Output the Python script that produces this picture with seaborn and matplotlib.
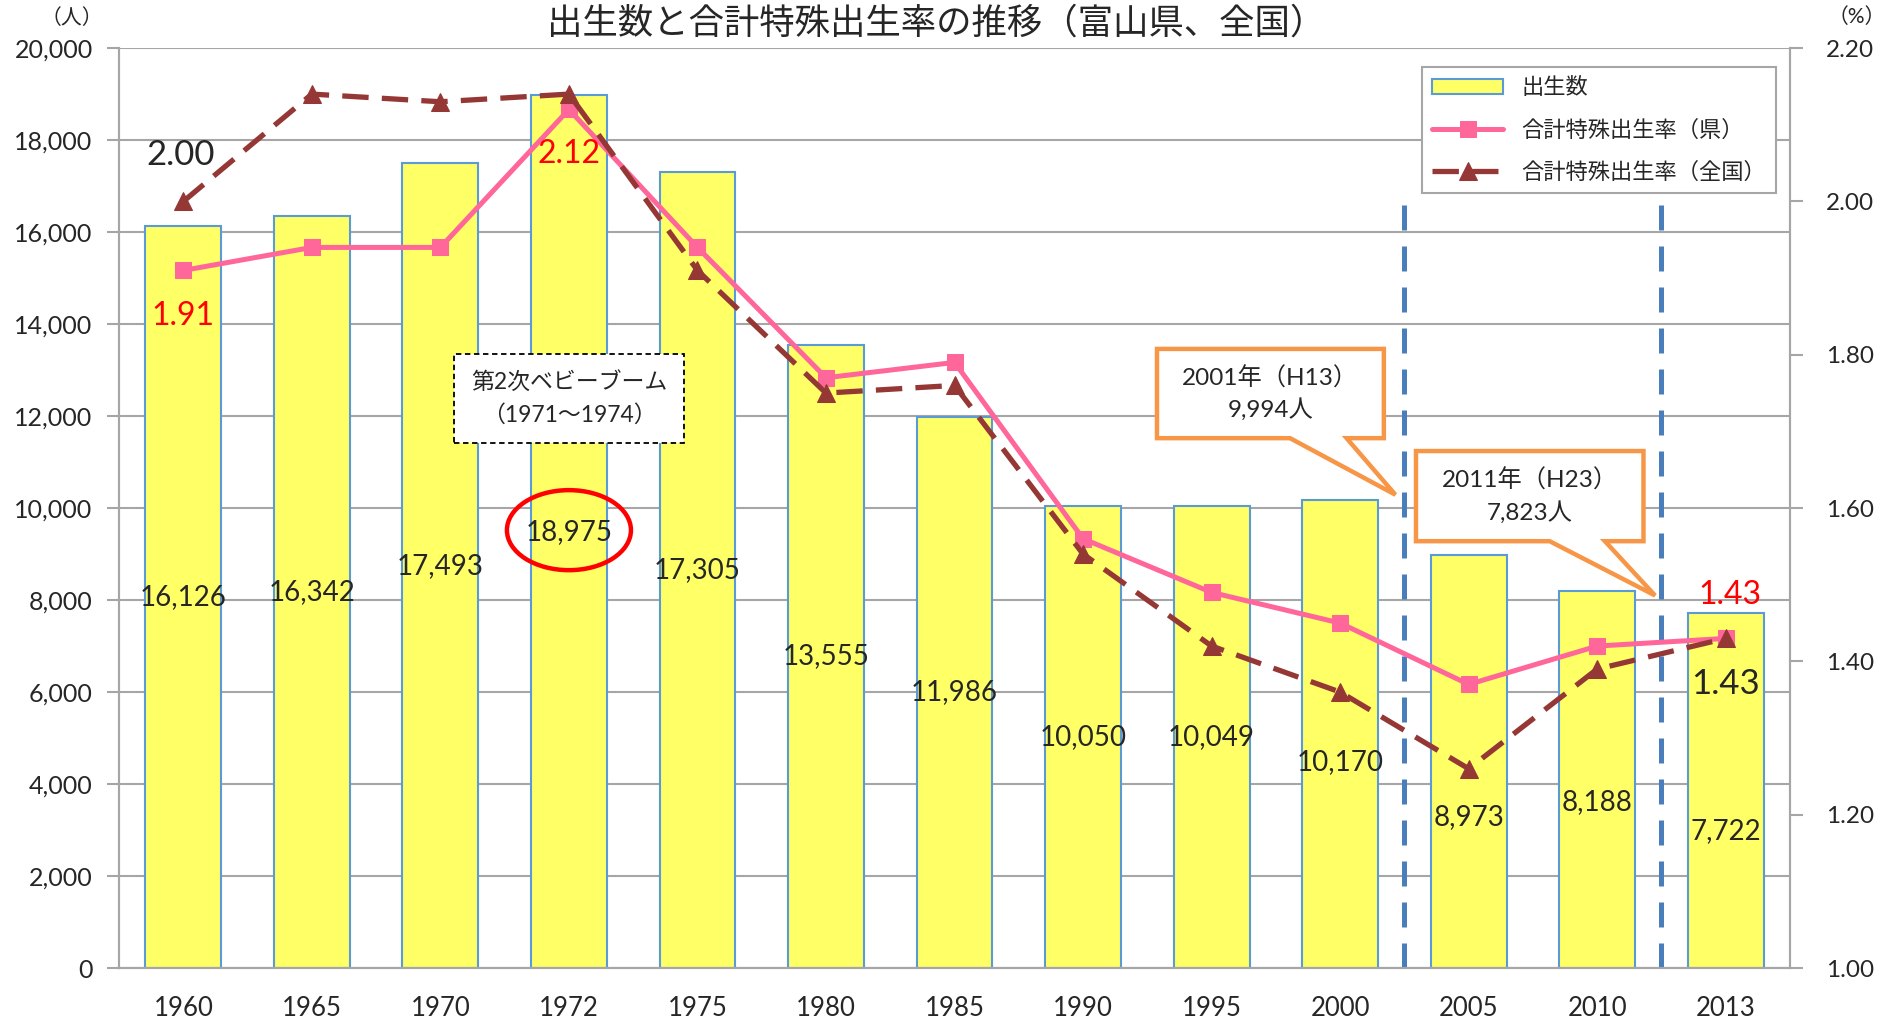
import numpy as np
import matplotlib
matplotlib.use('Agg')
import matplotlib.pyplot as plt
from matplotlib.patches import Ellipse, Polygon, Patch
from matplotlib.ticker import FuncFormatter, MultipleLocator, FixedLocator
import seaborn as sns

# data
years = ['1960', '1965', '1970', '1972', '1975', '1980', '1985',
         '1990', '1995', '2000', '2005', '2010', '2013']
births = [16126, 16342, 17493, 18975, 17305, 13555, 11986,
          10050, 10049, 10170, 8973, 8188, 7722]
tfr_pref = [1.91, 1.94, 1.94, 2.12, 1.94, 1.77, 1.79,
            1.56, 1.49, 1.45, 1.37, 1.42, 1.43]
tfr_nat = [2.00, 2.14, 2.13, 2.14, 1.91, 1.75, 1.76,
           1.54, 1.42, 1.36, 1.26, 1.39, 1.43]
# where the bar value labels sit, as share of bar height
label_frac = [0.5] * 9 + [0.44, 0.365, 0.44, 0.385]

BAR_FILL = '#FFFF66'
BAR_EDGE = '#5B9BD5'
PINK = '#FF6699'
BROWN = '#953735'
GRID = '#A6A6A6'
ORANGE = '#F79646'

sns.set_style('white')
plt.rcParams['font.family'] = ['Lato', 'Noto Sans CJK JP', 'DejaVu Sans']

fig = plt.figure(figsize=(18.87, 10.19), dpi=100)
ax = fig.add_axes([0.0631, 0.05, 0.8855, 0.9028])

sns.barplot(x=years, y=births, ax=ax, color=BAR_FILL, saturation=1,
            edgecolor=BAR_EDGE, linewidth=1.5, width=0.59, zorder=2)
ax.set_xlim(-0.5, 12.5)
ax.set_ylim(0, 20000)
ax.yaxis.set_major_locator(MultipleLocator(2000))
ax.yaxis.set_major_formatter(FuncFormatter(lambda v, p: f'{int(v):,}'))
ax.set_axisbelow(True)
ax.grid(axis='y', color=GRID, lw=1.5)
ax.set_xlabel('')
ax.set_ylabel('')

ax.set_xticks(range(len(years)))
ax.set_xticklabels(years)
ax.xaxis.set_minor_locator(FixedLocator(np.arange(-0.5, len(years), 1)))
ax.tick_params(axis='x', which='major', length=0, pad=20, labelsize=18.5)
ax.tick_params(axis='x', which='minor', length=9, width=1.5, color=GRID, direction='out')
ax.tick_params(axis='y', length=9, width=1.5, color=GRID, direction='out', pad=10, labelsize=18)

# bar value labels
for i, (v, f) in enumerate(zip(births, label_frac)):
    ax.text(i, v * f, f'{v:,}', ha='center', va='center', fontsize=20, zorder=4)

# separators for 2001 / 2011
ax.vlines([9.5, 11.5], 0, 16700, colors='#4A7EBB', lw=3.6,
          linestyles=(0, (5, 3.2)), zorder=3)

# baby boom note
ax.text(3, 12390, '第2次ベビーブーム\n（1971～1974）', ha='center', va='center',
        fontsize=16.5, linespacing=1.6, zorder=6,
        bbox=dict(boxstyle='square,pad=0.75', fc='white', ec='black', lw=1.3, ls=(0, (3, 2))))
ax.add_patch(Ellipse((3, 9520), 0.965, 1740, fill=False, ec='red', lw=3.2, zorder=5))


def callout(x0, x1, y0, y1, bx0, bx1, tip, text):
    pts = [(x0, y1), (x1, y1), (x1, y0), (bx1, y0), tip, (bx0, y0), (x0, y0)]
    ax.add_patch(Polygon(pts, closed=True, fc='white', ec=ORANGE, lw=3.2,
                         joinstyle='miter', zorder=6))
    ax.text((x0 + x1) / 2, (y0 + y1) / 2, text, ha='center', va='center',
            fontsize=17.5, linespacing=1.45, zorder=7)


callout(7.575, 9.34, 11520, 13460, 8.61, 9.05, (9.43, 10290), '2001年（H13）\n9,994人')
callout(9.59, 11.36, 9280, 11240, 10.63, 11.06, (11.45, 8100), '2011年（H23）\n7,823人')

ax.spines['top'].set_visible(False)
for s in ['left', 'bottom', 'right']:
    ax.spines[s].set_color(GRID)
    ax.spines[s].set_linewidth(1.5)

# rates on the right axis
ax2 = ax.twinx()
x = np.arange(len(years))
sns.lineplot(x=x, y=tfr_pref, ax=ax2, color=PINK, lw=3.6, marker='s', markersize=12,
             markeredgecolor=PINK, label='合計特殊出生率（県）', legend=False)
sns.lineplot(x=x, y=tfr_nat, ax=ax2, color=BROWN, lw=3.8, ls=(0, (5, 2.5)), marker='^',
             markersize=12.5, markeredgecolor=BROWN, label='合計特殊出生率（全国）', legend=False)
ax2.set_ylim(1.0, 2.2)
ax2.yaxis.set_major_locator(MultipleLocator(0.2))
ax2.yaxis.set_major_formatter(FuncFormatter(lambda v, p: f'{v:.2f}'))
ax2.tick_params(axis='y', length=9, width=1.5, color=GRID, direction='out', pad=17, labelsize=17.5)
ax2.set_xlabel('')
ax2.set_ylabel('')
ax2.spines['top'].set_visible(False)
for s in ['left', 'bottom', 'right']:
    ax2.spines[s].set_color(GRID)
    ax2.spines[s].set_linewidth(1.5)

# value callouts on the rate lines
ax2.text(-0.02, 2.06, f'{tfr_nat[0]:.2f}', ha='center', va='center', fontsize=25)
ax2.text(3, 2.062, f'{tfr_pref[3]:.2f}', ha='center', va='center', fontsize=23, color='red')
ax2.text(0, 1.85, f'{tfr_pref[0]:.2f}', ha='center', va='center', fontsize=23, color='red')
ax2.text(12.03, 1.487, f'{tfr_pref[-1]:.2f}', ha='center', va='center', fontsize=23, color='red')
ax2.text(12.0, 1.371, f'{tfr_nat[-1]:.2f}', ha='center', va='center', fontsize=25)

lines = ax2.get_lines()
handles = [Patch(fc=BAR_FILL, ec=BAR_EDGE, lw=1.5)] + lines[:2]
labels = ['出生数', '合計特殊出生率（県）', '合計特殊出生率（全国）']
leg = ax2.legend(handles, labels, loc='upper right', bbox_to_anchor=(0.9916, 0.979),
                 borderaxespad=0, fontsize=16, frameon=True, fancybox=False, edgecolor=GRID,
                 handlelength=3.2, borderpad=0.45, labelspacing=0.95, framealpha=1)
leg.get_frame().set_linewidth(1.5)

# title and unit labels
fig.text(0.496, 0.978, '出生数と合計特殊出生率の推移（富山県、全国）', ha='center', va='center',
         fontsize=25.5)
fig.text(0.038, 0.982, '（人）', ha='center', va='center', fontsize=15)
fig.text(0.984, 0.983, '（%）', ha='center', va='center', fontsize=15)

fig.savefig('out.png', dpi=100)
